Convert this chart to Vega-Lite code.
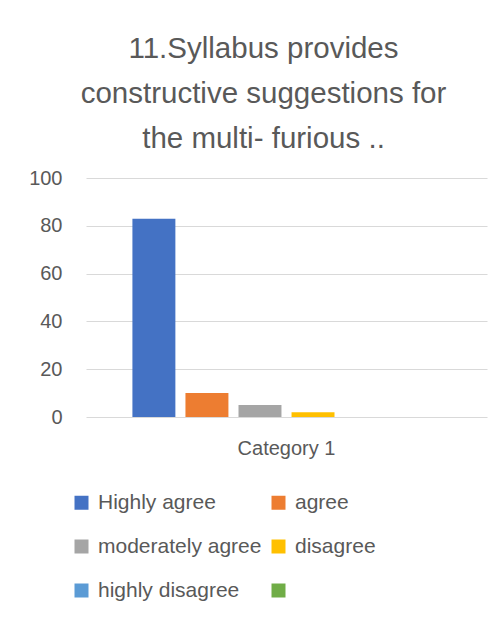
{
  "$schema": "https://vega.github.io/schema/vega-lite/v6.json",
  "width": 401,
  "height": 239,
  "autosize": {"type": "none"},
  "padding": {"left": 86, "top": 178, "right": 17, "bottom": 206},
  "background": "white",
  "title": {
    "text": ["11.Syllabus provides", "constructive suggestions for", "the multi- furious .."],
    "font": "Liberation Sans",
    "fontSize": 29.5,
    "fontWeight": "normal",
    "color": "#595959",
    "lineHeight": 45,
    "anchor": "middle",
    "frame": "group",
    "baseline": "bottom",
    "offset": -15,
    "dx": -23
  },
  "data": {
    "values": [
      {"category": "Category 1", "series": "Highly agree", "value": 83},
      {"category": "Category 1", "series": "agree", "value": 10},
      {"category": "Category 1", "series": "moderately agree", "value": 5},
      {"category": "Category 1", "series": "disagree", "value": 2},
      {"category": "Category 1", "series": "highly disagree", "value": 0},
      {"category": "Category 1", "series": "", "value": 0}
    ]
  },
  "mark": {"type": "bar"},
  "encoding": {
    "x": {
      "field": "category",
      "type": "nominal",
      "scale": {"paddingOuter": 0.13, "paddingInner": 0},
      "axis": {
        "title": null,
        "domain": false,
        "ticks": false,
        "labelAngle": 0,
        "labelPadding": 21,
        "labelFont": "Liberation Sans",
        "labelFontSize": 20,
        "labelColor": "#595959"
      }
    },
    "xOffset": {
      "field": "series",
      "type": "nominal",
      "sort": ["Highly agree", "agree", "moderately agree", "disagree", "highly disagree", ""],
      "scale": {"paddingInner": 0.19, "paddingOuter": 0.095}
    },
    "y": {
      "field": "value",
      "type": "quantitative",
      "scale": {"domain": [0, 100], "nice": false},
      "axis": {
        "title": null,
        "values": [0, 20, 40, 60, 80, 100],
        "domain": false,
        "ticks": false,
        "labelPadding": 24,
        "labelFont": "Liberation Sans",
        "labelFontSize": 20,
        "labelColor": "#595959",
        "gridColor": "#d9d9d9",
        "gridWidth": 1
      }
    },
    "color": {
      "field": "series",
      "type": "nominal",
      "scale": {
        "domain": ["Highly agree", "agree", "moderately agree", "disagree", "highly disagree", ""],
        "range": ["#4472C4", "#ED7D31", "#A5A5A5", "#FFC000", "#5B9BD5", "#70AD47"]
      },
      "legend": {
        "title": null,
        "orient": "none",
        "legendX": -15,
        "legendY": 314,
        "columns": 2,
        "direction": "horizontal",
        "padding": 0,
        "symbolType": "square",
        "symbolSize": 196,
        "symbolStrokeWidth": 0,
        "symbolOpacity": 1,
        "labelFont": "Liberation Sans",
        "labelFontSize": 21,
        "labelColor": "#595959",
        "labelOffset": 6,
        "labelLimit": 400,
        "columnPadding": 6,
        "rowPadding": 22
      }
    }
  },
  "config": {
    "view": {"stroke": null}
  }
}
